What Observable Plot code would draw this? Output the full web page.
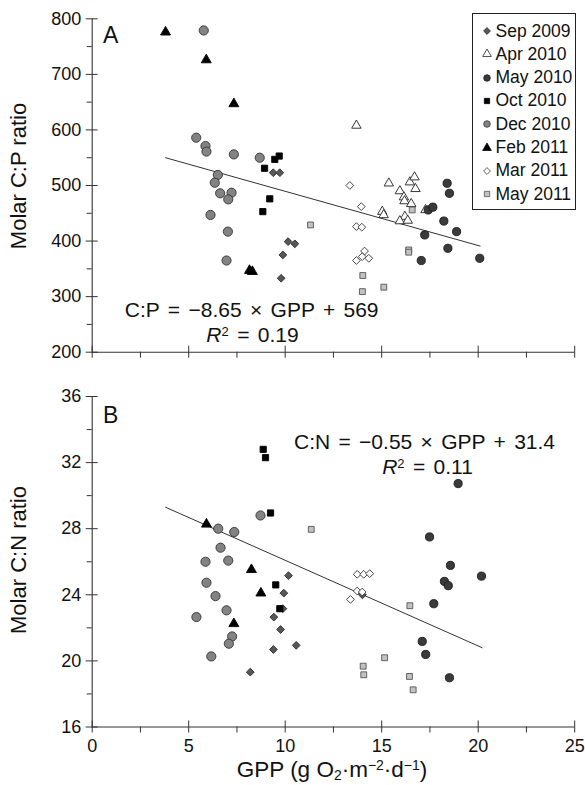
<!DOCTYPE html>
<html><head><meta charset="utf-8">
<script src="https://cdn.jsdelivr.net/npm/d3@7"></script>
<script src="https://cdn.jsdelivr.net/npm/@observablehq/plot@0.6"></script>
<style>
body{margin:0;background:#fff;font-family:"Liberation Sans",Arial,Helvetica,sans-serif;color:#111;}
#wrap{position:relative;width:585px;height:785px;overflow:hidden;background:#fff;}
.abs{position:absolute;white-space:nowrap;line-height:1;}
.ctr{transform:translateX(-50%);}
sup{font-size:0.62em;line-height:0;vertical-align:0.5em;}
sub{font-size:0.62em;line-height:0;vertical-align:-0.22em;}
#legend{position:absolute;left:471.5px;top:12.5px;width:104px;height:197px;border:1.2px solid #222;box-sizing:border-box;background:#fff;}
.lrow{position:absolute;left:0;height:20px;display:flex;align-items:center;font-size:17.5px;white-space:nowrap;}
.lrow svg{margin-left:9.5px;margin-right:3.5px;flex:none;}
</style></head><body><div id="wrap"></div>
<script>
// ---------- data ----------
const seriesNames = ["Sep 2009","Apr 2010","May 2010","Oct 2010","Dec 2010","Feb 2011","Mar 2011","May 2011"];

// Panel A: [GPP, molar C:P]
const cpSep2009 = [[9.38,523],[9.72,523],[10.15,399],[10.5,395],[9.88,375],[9.79,333]];
const cpApr2010 = [[13.69,608],[15.37,504],[16.46,506],[16.7,515],[16.75,494],[15.94,490],[16.15,479],[16.18,472],[16.53,467],[17.27,456],[15.03,453],[15.1,447],[16.2,444],[15.94,436],[16.35,437]];
const cpMay2010 = [[18.39,504],[18.51,486],[17.41,456],[17.65,461],[18.22,436],[18.88,417],[17.23,411],[18.43,387],[17.05,365],[20.08,369]];
const cpOct2010 = [[9.69,553],[9.46,547],[8.93,531],[9.2,476],[8.84,453]];
const cpDec2010 = [[5.78,779],[5.39,586],[5.87,571],[5.92,561],[7.34,556],[8.68,550],[6.51,519],[6.35,505],[6.63,486],[7.22,487],[7.05,475],[6.13,447],[7.03,417],[6.96,365]];
const cpFeb2011 = [[3.8,776],[5.91,726],[7.34,647],[8.15,347],[8.3,345]];
const cpMar2011 = [[13.35,500],[13.94,462],[13.69,426],[13.97,425],[14.11,382],[13.99,372],[14.33,369],[13.69,365]];
const cpMay2011 = [[11.31,429],[16.58,456],[16.4,384],[16.4,380],[14.02,338],[15.11,317],[14.0,309]];

// Panel B: [GPP, molar C:N]
const cnSep2009 = [[10.17,25.16],[9.93,24.1],[9.88,23.16],[9.41,22.65],[9.76,21.9],[10.57,20.94],[9.39,20.69],[8.19,19.32],[14.0,24.0]];
const cnApr2010 = [];
const cnMay2010 = [[18.96,30.73],[17.48,27.5],[18.56,25.78],[20.17,25.13],[18.25,24.81],[18.45,24.55],[17.7,23.46],[17.1,21.18],[17.28,20.39],[18.51,18.98]];
const cnOct2010 = [[8.86,32.8],[8.98,32.3],[9.24,28.95],[9.51,24.6],[9.72,23.16]];
const cnDec2010 = [[8.72,28.8],[6.53,28.0],[7.36,27.8],[6.65,26.85],[5.87,26.0],[7.05,26.07],[5.92,24.73],[6.39,23.92],[6.96,23.06],[5.4,22.65],[7.25,21.48],[7.08,21.04],[6.17,20.27]];
const cnFeb2011 = [[5.92,28.27],[8.25,25.52],[8.74,24.1],[7.34,22.25]];
const cnMar2011 = [[13.73,25.24],[14.07,25.24],[14.38,25.28],[13.73,24.23],[13.99,24.17],[13.38,23.72]];
const cnMay2011 = [[11.35,27.96],[16.46,23.34],[15.15,20.19],[14.04,19.68],[14.07,19.16],[16.44,19.06],[16.63,18.25]];

// regression lines as drawn [GPP, ratio]
const cpFit = [[3.8,550],[20.1,391]];
const cnFit = [[3.8,29.3],[20.2,20.8]];

// ticks
const xMajor = [0,5,10,15,20,25];
const xMinor = [2.5,7.5,12.5,17.5,22.5];
const cpMajor = [200,300,400,500,600,700,800];
const cpMinor = [250,350,450,550,650,750];
const cnMajor = [16,20,24,28,32,36];
const cnMinor = [18,22,26,30,34];

// ---------- styles ----------
const styles = {
  "Sep 2009": {symbol:"diamond2", fill:"#575757", stroke:"#2a2a2a", r:3.5},
  "Apr 2010": {symbol:"triangle", fill:"#fff", stroke:"#222", r:3.5},
  "May 2010": {symbol:"circle", fill:"#3a3a3a", stroke:"#1c1c1c", r:4.1},
  "Oct 2010": {symbol:"square", fill:"#000", stroke:"#000", r:3.5},
  "Dec 2010": {symbol:"circle", fill:"#838383", stroke:"#333", r:4.6},
  "Feb 2011": {symbol:"triangle", fill:"#000", stroke:"#000", r:3.7},
  "Mar 2011": {symbol:"diamond2", fill:"#fff", stroke:"#333", r:3.5},
  "May 2011": {symbol:"square", fill:"#c2c2c2", stroke:"#555", r:3.3}
};
const cpSeries = [cpSep2009,cpApr2010,cpMay2010,cpOct2010,cpDec2010,cpFeb2011,cpMar2011,cpMay2011];
const cnSeries = [cnSep2009,cnApr2010,cnMay2010,cnOct2010,cnDec2010,cnFeb2011,cnMar2011,cnMay2011];

const W = 585, mL = 91.7, mR = 10.8;
const axisColor = "#333";

function panel({series, fit, yDomain, yMajor, yMinor, height, marginTop, marginBottom, xLabels}) {
  const plotH = height - marginTop - marginBottom;
  const plotW = W - mL - mR;
  const marks = [
    Plot.ruleY([yDomain[0]], {stroke: axisColor, strokeWidth: 1.1}),
    Plot.ruleX([0], {stroke: axisColor, strokeWidth: 1.1}),
    Plot.tickX(xMajor, {x: d => d, insetTop: plotH - 6, insetBottom: -6, stroke: axisColor}),
    Plot.tickX(xMinor, {x: d => d, insetTop: plotH, insetBottom: -6, stroke: axisColor}),
    Plot.tickY(yMajor, {y: d => d, insetRight: plotW - 6, insetLeft: -6, stroke: axisColor}),
    Plot.tickY(yMinor, {y: d => d, insetRight: plotW, insetLeft: -5, stroke: axisColor}),
    Plot.axisY(yMajor, {tickSize: 0, tickPadding: 11, fontSize: 18, label: null}),
    Plot.line(fit, {x: d => d[0], y: d => d[1], stroke: "#333", strokeWidth: 1})
  ];
  if (xLabels) marks.push(Plot.axisX(xMajor, {tickSize: 0, tickPadding: 12, fontSize: 18, label: null}));
  series.forEach((data, i) => {
    const s = styles[seriesNames[i]];
    marks.push(Plot.dot(data, {x: d => d[0], y: d => d[1], symbol: s.symbol, r: s.r, fill: s.fill, stroke: s.stroke, strokeWidth: 0.9}));
  });
  return Plot.plot({
    width: W, height, marginLeft: mL, marginRight: mR, marginTop, marginBottom,
    x: {domain: [0, 25], ...(xLabels ? {} : {axis: null})},
    y: {domain: yDomain},
    style: {fontFamily: "'Liberation Sans', Arial, sans-serif", fontSize: "18px", color: "#111", background: "transparent", overflow: "visible"},
    marks
  });
}

const wrap = document.getElementById("wrap");
const svgA = panel({series: cpSeries, fit: cpFit, yDomain: [200, 800], yMajor: cpMajor, yMinor: cpMinor,
  height: 375, marginTop: 18.3, marginBottom: 23.3, xLabels: false});
svgA.style.position = "absolute"; svgA.style.left = "0px"; svgA.style.top = "0px";
wrap.appendChild(svgA);
const svgB = panel({series: cnSeries, fit: cnFit, yDomain: [16, 36], yMajor: cnMajor, yMinor: cnMinor,
  height: 410, marginTop: 21, marginBottom: 58.5, xLabels: true});
svgB.style.position = "absolute"; svgB.style.left = "0px"; svgB.style.top = "375px";
wrap.appendChild(svgB);

// ---------- text overlays ----------
function addDiv(html, css, cls) {
  const d = document.createElement("div");
  d.className = "abs " + (cls || "");
  d.innerHTML = html;
  Object.assign(d.style, css);
  wrap.appendChild(d);
  return d;
}
const eq = {fontSize: "21px", wordSpacing: "0.12em"};
addDiv("A", {left: "103px", top: "24px", fontSize: "23px"});
addDiv("B", {left: "103px", top: "404px", fontSize: "23px"});
addDiv("C:P = \u22128.65 \u00d7 GPP + 569", {left: "251.7px", top: "299px", ...eq}, "ctr");
addDiv("<i>R</i><sup>2</sup> = 0.19", {left: "252.5px", top: "324px", ...eq}, "ctr");
addDiv("C:N = \u22120.55 \u00d7 GPP + 31.4", {left: "424.5px", top: "430.5px", ...eq}, "ctr");
addDiv("<i>R</i><sup>2</sup> = 0.11", {left: "427.5px", top: "455.5px", ...eq}, "ctr");
addDiv("GPP (g O<sub>2</sub>\u00b7m<sup>\u22122</sup>\u00b7d<sup>\u22121</sup>)", {left: "332px", top: "759px", fontSize: "22.5px"}, "ctr");
const yt = "translate(-50%,-50%) rotate(-90deg)";
addDiv("Molar C:P ratio", {left: "18.5px", top: "176px", fontSize: "22px", transform: yt});
addDiv("Molar C:N ratio", {left: "18.5px", top: "560px", fontSize: "22px", transform: yt});

// ---------- legend ----------
const legend = document.createElement("div");
legend.id = "legend";
wrap.appendChild(legend);
const symMap = {circle: d3.symbolCircle, square: d3.symbolSquare, triangle: d3.symbolTriangle, diamond2: d3.symbolDiamond2};
const legendArea = {circle: 34, square: 28, triangle: 32, diamond2: 30};
seriesNames.forEach((name, i) => {
  const s = styles[name];
  const row = document.createElement("div");
  row.className = "lrow";
  row.style.top = (7.5 + i * 23.3) + "px";
  const path = d3.symbol(symMap[s.symbol], legendArea[s.symbol])();
  row.innerHTML = `<svg width="10" height="10" viewBox="-5 -5 10 10"><path d="${path}" fill="${s.fill}" stroke="${s.stroke}" stroke-width="0.8"/></svg><span>${name}</span>`;
  legend.appendChild(row);
});
</script>
</body></html>
